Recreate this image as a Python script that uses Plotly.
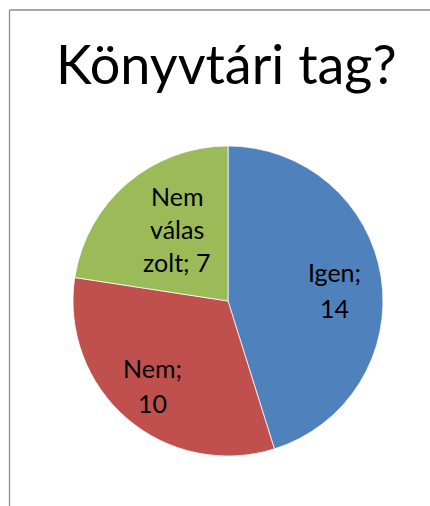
import math
import plotly.graph_objects as go

# Survey answers: "Is the respondent a library member?"
labels = ["Igen", "Nem", "Nem válaszolt"]
values = [14, 10, 7]
slice_colors = ["#4F81BD", "#C0504D", "#9BBB59"]
# Lines of each slice label; "{v}" is filled with the slice value
label_lines = [
    ["Igen;", "{v}"],
    ["Nem;", "{v}"],
    ["Nem", "válas", "zolt; {v}"],
]
title_text = "Könyvtári tag?"

# Label placement: fraction of the radius and a small angular nudge (deg)
label_radius = [0.69, 0.73, 0.57]
label_nudge = [3, 1, 5]
line_gap = [36, 35, 33]

W, H = 430, 506
cx, cy, r = 228, 301, 155

fig = go.Figure(
    go.Pie(
        labels=labels,
        values=values,
        sort=False,
        direction="clockwise",
        rotation=0,
        marker=dict(colors=slice_colors, line=dict(color="white", width=0.75)),
        textinfo="none",
        showlegend=False,
        hoverinfo="label+value",
        domain=dict(
            x=[(cx - r) / W, (cx + r) / W],
            y=[(H - cy - r) / H, (H - cy + r) / H],
        ),
    )
)

annotations = [
    dict(
        text=title_text,
        x=226 / W,
        y=1 - 64 / H,
        xref="paper",
        yref="paper",
        xanchor="center",
        yanchor="middle",
        showarrow=False,
        font=dict(family="Lato", size=54, color="black"),
    )
]

# Slice labels at each slice's mid-angle (clockwise from 12 o'clock)
total = sum(values)
cum = 0
for val, lines, rf, nudge, gap in zip(values, label_lines, label_radius, label_nudge, line_gap):
    mid = (cum + val / 2) / total * 2 * math.pi + math.radians(nudge)
    cum += val
    px = cx + rf * r * math.sin(mid)
    py = cy - rf * r * math.cos(mid)
    n = len(lines)
    for i, line in enumerate(lines):
        annotations.append(
            dict(
                text=line.format(v=val),
                x=px / W,
                y=1 - py / H,
                xref="paper",
                yref="paper",
                xanchor="center",
                yanchor="middle",
                yshift=-(i - (n - 1) / 2) * gap,
                showarrow=False,
                font=dict(family="Lato", size=25, color="black"),
            )
        )

fig.update_layout(
    width=W,
    height=H,
    margin=dict(l=0, r=0, t=0, b=0),
    paper_bgcolor="white",
    plot_bgcolor="white",
    annotations=annotations,
    shapes=[
        dict(type="line", xref="paper", yref="paper",
             x0=9.5 / W, x1=1, y0=1 - 10 / H, y1=1 - 10 / H,
             line=dict(color="#8C8C8C", width=1.3)),
        dict(type="line", xref="paper", yref="paper",
             x0=9.5 / W, x1=9.5 / W, y0=1 - 10 / H, y1=0,
             line=dict(color="#8C8C8C", width=1.3)),
    ],
)

fig.write_html("out.html")
